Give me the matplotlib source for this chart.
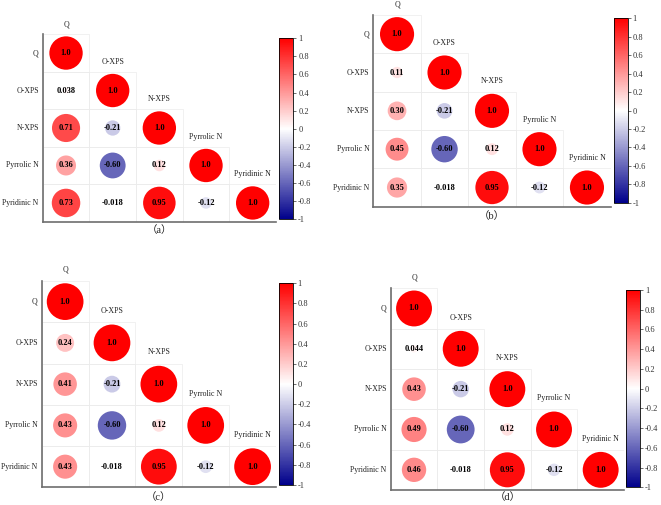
import numpy as np
import matplotlib
matplotlib.use("Agg")
import matplotlib.pyplot as plt
from matplotlib.colors import LinearSegmentedColormap, Normalize
from matplotlib.cm import ScalarMappable
from matplotlib.patches import Rectangle

plt.rcParams['font.family'] = ['Liberation Serif', 'Noto Sans CJK SC', 'DejaVu Sans']
plt.rcParams['axes.unicode_minus'] = False

variables = ["Q", "O-XPS", "N-XPS", "Pyrrolic N", "Pyridinic N"]

# lower-triangle correlation values, row by row
corr_a = [[1.0],
          [0.038, 1.0],
          [0.71, -0.21, 1.0],
          [0.36, -0.60, 0.12, 1.0],
          [0.73, -0.018, 0.95, -0.12, 1.0]]
corr_b = [[1.0],
          [0.11, 1.0],
          [0.30, -0.21, 1.0],
          [0.45, -0.60, 0.12, 1.0],
          [0.35, -0.018, 0.95, -0.12, 1.0]]
corr_c = [[1.0],
          [0.24, 1.0],
          [0.41, -0.21, 1.0],
          [0.43, -0.60, 0.12, 1.0],
          [0.43, -0.018, 0.95, -0.12, 1.0]]
corr_d = [[1.0],
          [0.044, 1.0],
          [0.43, -0.21, 1.0],
          [0.49, -0.60, 0.12, 1.0],
          [0.46, -0.018, 0.95, -0.12, 1.0]]

panel_letters = ["a", "b", "c", "d"]
cbar_ticks = [1, 0.8, 0.6, 0.4, 0.2, 0, -0.2, -0.4, -0.6, -0.8, -1]
cbar_ticklabels = ["1", "0.8", "0.6", "0.4", "0.2", "0", "-0.2", "-0.4", "-0.6", "-0.8", "-1"]

W, H = 661, 505
fig = plt.figure(figsize=(W / 100, H / 100), dpi=100)

cmap = LinearSegmentedColormap.from_list("corr", ["#00008b", "#ffffff", "#ff0000"])
norm = Normalize(-1, 1)

# layout in pixels: grid (x0, x1, y0, y1), colorbar (x0, x1, y0, y1), caption y
layouts = [
    ((42.7, 276.0, 34.3, 221.7), (279.3, 293.3, 38.3, 219.3), 230.5),
    ((373.3, 610.7, 15.0, 206.7), (614.0, 627.7, 18.3, 202.7), 216.0),
    ((41.7, 276.0, 281.0, 487.3), (279.3, 292.7, 283.3, 485.0), 497.5),
    ((390.7, 624.0, 288.3, 490.0), (626.0, 640.0, 290.0, 487.3), 497.5),
]

def fr(x0, x1, y0, y1):
    return [x0 / W, 1 - y1 / H, (x1 - x0) / W, (y1 - y0) / H]

n = len(variables)
for corr, (grid, cb, capy), let in zip([corr_a, corr_b, corr_c, corr_d], layouts, panel_letters):
    gx0, gx1, gy0, gy1 = grid
    ax = fig.add_axes(fr(gx0, gx1, gy0, gy1))
    ax.set_xlim(0, n)
    ax.set_ylim(n, 0)
    cell_h = (gy1 - gy0) / n
    for i in range(n):
        for j in range(i + 1):
            ax.add_patch(Rectangle((j, i), 1, 1, fill=False, edgecolor="#ebebeb", lw=0.5, zorder=1))
    xs, ys, vals = [], [], []
    for i, row in enumerate(corr):
        for j, v in enumerate(row):
            xs.append(j + 0.5); ys.append(i + 0.5); vals.append(v)
    vals = np.array(vals)
    diam_pt = 0.89 * cell_h * np.sqrt(np.abs(vals)) * 72 / 100
    ax.scatter(xs, ys, s=diam_pt ** 2, c=vals, cmap=cmap, norm=norm, edgecolors="none", zorder=2, clip_on=False)
    for x, y, v in zip(xs, ys, vals):
        ax.text(x, y, f"{v:#.2g}", ha="center", va="center", fontsize=6, fontweight="bold",
                color="black", zorder=3)
    for i, name in enumerate(variables):
        ax.text(i + 0.5, i - 0.27, name, ha="center", va="center", fontsize=5.7, color="#222222")
        ax.text(-0.085, i + 0.5, name, ha="right", va="center", fontsize=5.6, color="#222222")
    ax.set_xticks([]); ax.set_yticks([])
    for s in ["top", "right"]:
        ax.spines[s].set_visible(False)
    for s in ["left", "bottom"]:
        ax.spines[s].set_color("#6e6e6e")
        ax.spines[s].set_linewidth(1.2)
    ax.set_facecolor("none")
    ax.text(0.5 * n, n + (capy - gy1) / cell_h, "\uff08" + let + "\uff09", ha="center", va="center",
            fontsize=7.5, color="#222222", family=["Liberation Serif", "Noto Sans CJK JP"])

    cx0, cx1, cy0, cy1 = cb
    cax = fig.add_axes(fr(cx0, cx1, cy0, cy1))
    sm = ScalarMappable(norm=norm, cmap=cmap)
    cbar = fig.colorbar(sm, cax=cax, ticks=cbar_ticks)
    cbar.ax.set_yticklabels(cbar_ticklabels)
    cbar.ax.tick_params(labelsize=6, length=2, width=0.5, pad=1.5, colors="#333333")
    cbar.outline.set_linewidth(0.6)

fig.savefig("out.png", dpi=100)
